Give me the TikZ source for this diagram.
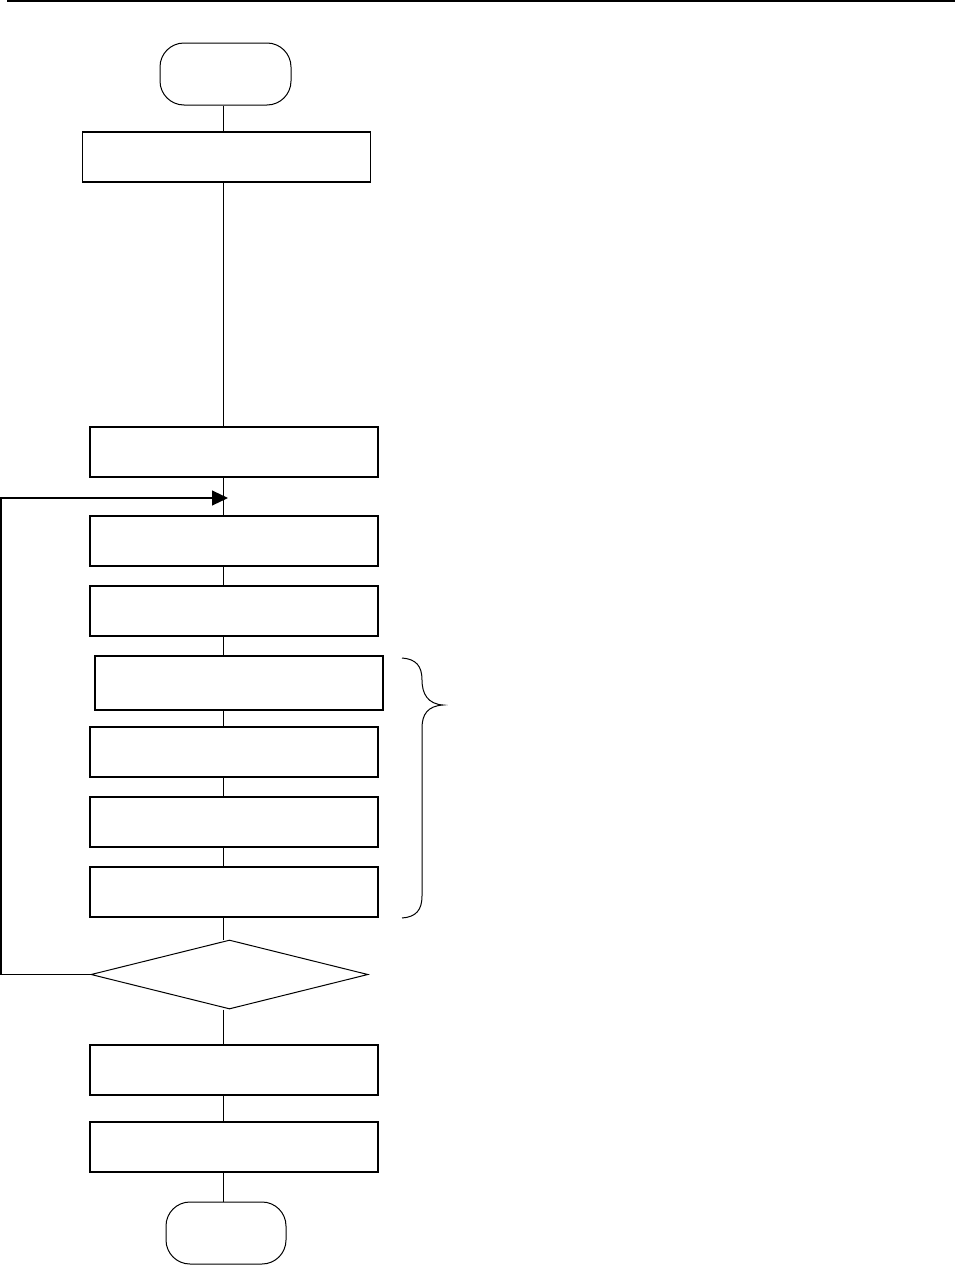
\documentclass[tikz,border=0pt]{standalone}
\usetikzlibrary{shapes.geometric,arrows.meta}
\begin{document}
\begin{tikzpicture}[x=1pt,y=-1pt,
  procbox/.style={draw,line width=1.3pt,rectangle,inner sep=0pt,minimum width=288pt,minimum height=50pt},
  termbox/.style={draw,line width=1pt,rectangle,rounded corners=24pt,inner sep=0pt,minimum height=62pt},
  decbox/.style={draw,line width=1pt,diamond,inner sep=0pt,minimum width=277pt,minimum height=69pt},
  conn/.style={line width=0.9pt}]
\useasboundingbox (0,0) rectangle (955,1266);
\draw[line width=1.5pt] (7,1) -- (955,1);
\coordinate (sp) at (223,0);
\node[termbox,minimum width=131pt] (start) at (225.5,74) {};
\node[procbox] (b1) at (226.5,157) {};
\node[procbox] (b2) at (234,452) {};
\node[procbox] (b3) at (234,541) {};
\node[procbox] (b4) at (234,611) {};
\node[procbox,minimum height=54pt] (b5) at (239,683) {};
\node[procbox] (b6) at (234,752) {};
\node[procbox] (b7) at (234,822) {};
\node[procbox] (b8) at (234,892) {};
\node[decbox] (dec) at (229.5,974.5) {};
\node[procbox] (b9) at (234,1070) {};
\node[procbox] (b10) at (234,1147) {};
\node[termbox,minimum width=120pt] (end) at (226,1233) {};
\coordinate (loopL) at (1,974.5);
\coordinate (loopT) at (1,498);
\coordinate (loopA) at (228,498);
\draw[conn] (start.south -| sp) -- (b1.north -| sp);
\draw[conn] (b1.south -| sp) -- (b2.north -| sp);
\draw[conn] (b2.south -| sp) -- (b3.north -| sp);
\draw[conn] (b3.south -| sp) -- (b4.north -| sp);
\draw[conn] (b4.south -| sp) -- (b5.north -| sp);
\draw[conn] (b5.south -| sp) -- (b6.north -| sp);
\draw[conn] (b6.south -| sp) -- (b7.north -| sp);
\draw[conn] (b7.south -| sp) -- (b8.north -| sp);
\draw[conn] (b8.south -| sp) -- (sp |- dec.north);
\draw[conn] (sp |- dec.south) -- (b9.north -| sp);
\draw[conn] (b9.south -| sp) -- (b10.north -| sp);
\draw[conn] (b10.south -| sp) -- (end.north -| sp);
\draw[conn,line width=1.1pt,-{Triangle[length=16pt,width=15pt]}] (dec.west) -- (loopL) -- (loopT) -- (loopA);
\draw[line width=1pt] (402,658) .. controls (416,659) and (422,666) .. (422,680)
  .. controls (422,694) and (428,704) .. (443,705)
  .. controls (428,706) and (422,714) .. (422,728)
  -- (422,896) .. controls (422,910) and (416,917) .. (402,918);
\end{tikzpicture}
\end{document}
